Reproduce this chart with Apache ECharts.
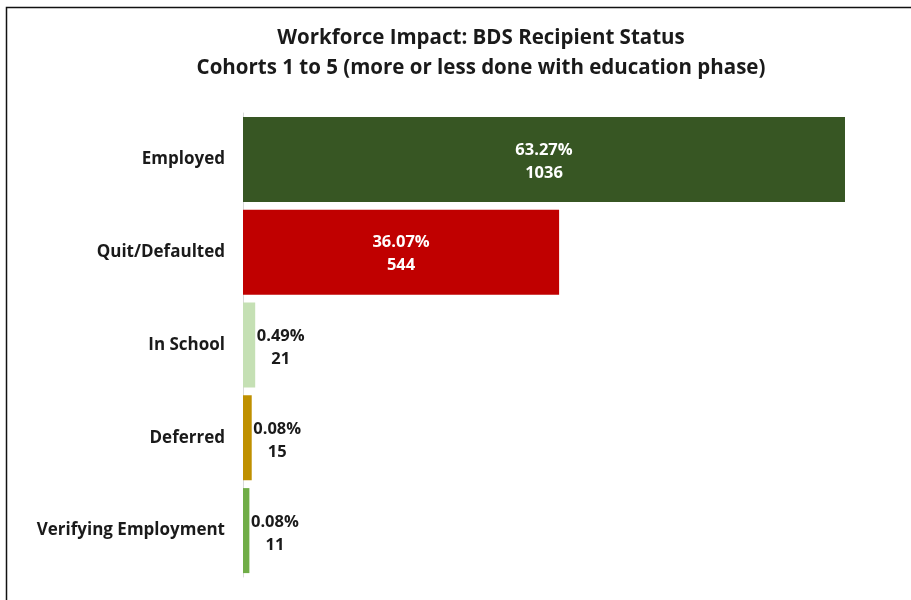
<!DOCTYPE html>
<html>
<head>
<meta charset="utf-8">
<script src="https://cdn.jsdelivr.net/npm/echarts@6/dist/echarts.min.js"></script>
<style>html,body{margin:0;padding:0;background:#fff;}#c{width:911px;height:600px;}</style>
</head>
<body>
<div id="c"></div>
<script>
var categories = ['Employed', 'Quit/Defaulted', 'In School', 'Deferred', 'Verifying Employment'];
var counts = [1036, 544, 21, 15, 11];
var percentLabels = ['63.27%', '36.07%', '0.49%', '0.08%', '0.08%'];
var barColors = ['#375623', '#C00000', '#C5E0B4', '#BF9000', '#70AD47'];
var FONT = 'Open Sans';

var chart = echarts.init(document.getElementById('c'), null, {renderer: 'canvas'});
var data = counts.map(function (v, i) {
  var inside = i < 2;
  return {
    value: v,
    itemStyle: {color: barColors[i]},
    label: inside ? {
      show: true, position: 'inside', offset: [0, 2],
      formatter: '{w|' + percentLabels[i] + '}\n{w|' + v + '}',
      rich: {w: {color: '#ffffff', fontFamily: FONT, fontWeight: 'bold', fontSize: 16.5, lineHeight: 23, align: 'center'}}
    } : {
      show: true, position: 'right', distance: 1, offset: [0, 3],
      formatter: '{d|' + percentLabels[i] + '}\n{d|' + v + '}',
      rich: {d: {color: '#1a1a1a', fontFamily: FONT, fontWeight: 'bold', fontSize: 16.5, lineHeight: 23, width: 49, align: 'center'}}
    }
  };
});

chart.setOption({
  animation: false,
  title: {
    text: 'Workforce Impact: BDS Recipient Status\nCohorts 1 to 5 (more or less done with education phase)',
    left: 476, top: 18, textAlign: 'center',
    textStyle: {fontFamily: FONT, fontWeight: 'bold', fontSize: 20.5, lineHeight: 30, color: '#1a1a1a'}
  },
  grid: {left: 243, right: 66, top: 113, bottom: 23, containLabel: false},
  xAxis: {
    type: 'value', min: 0, max: 'dataMax', show: false
  },
  yAxis: {
    type: 'category', data: categories, inverse: true,
    axisLine: {show: true, lineStyle: {color: '#d9d9d9', width: 1}},
    axisTick: {show: false},
    axisLabel: {fontFamily: FONT, fontWeight: 'bold', fontSize: 17, color: '#1a1a1a', margin: 18}
  },
  series: [{
    type: 'bar', data: data, barCategoryGap: '8.4%'
  }],
  graphic: [{
    type: 'rect', silent: true,
    shape: {x: 6.5, y: 7.5, width: 1200, height: 1200},
    style: {fill: 'none', stroke: '#111', lineWidth: 1.5}
  }]
});
</script>
</body>
</html>
